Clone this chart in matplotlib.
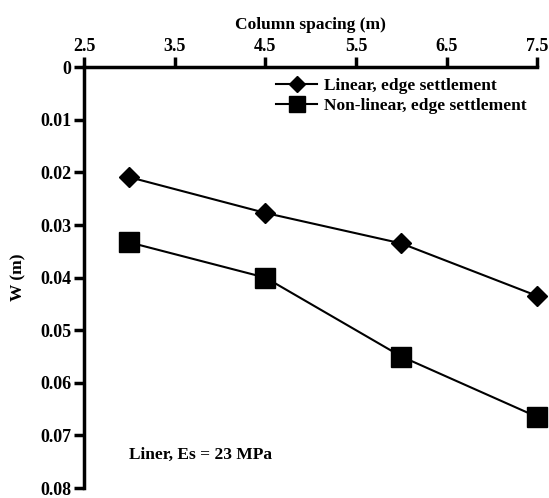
import numpy as np
import matplotlib.pyplot as plt

spacing = [3.0, 4.5, 6.0, 7.5]
w_linear = [0.0209, 0.0277, 0.0335, 0.0435]
w_nonlinear = [0.0333, 0.0400, 0.0550, 0.0665]
xticks = [2.5, 3.5, 4.5, 5.5, 6.5, 7.5]
yticks = [0, 0.01, 0.02, 0.03, 0.04, 0.05, 0.06, 0.07, 0.08]

plt.rcParams['font.family'] = ['Liberation Serif', 'DejaVu Serif']
plt.rcParams['font.weight'] = 'bold'

fig = plt.figure(figsize=(5.49, 4.98), dpi=100)
ax = fig.add_axes([0.153, 0.02, 0.826, 0.845])

ax.plot(spacing, w_linear, color='black', lw=1.5, marker='D', ms=10,
        label='Linear, edge settlement')
ax.plot(spacing, w_nonlinear, color='black', lw=1.5, marker='s', ms=14,
        label='Non-linear, edge settlement')

ax.set_xlim(2.5, 7.5)
ax.set_ylim(0.08, 0)
ax.set_xticks(xticks)
ax.set_yticks(yticks)
ax.set_yticklabels(['0'] + ['%.2f' % v for v in yticks[1:]])
ax.xaxis.tick_top()
ax.xaxis.set_label_position('top')
ax.set_xlabel('Column spacing (m)', fontsize=12.5, fontweight='bold', labelpad=6)
ax.set_ylabel('W (m)', fontsize=12.5, fontweight='bold', labelpad=10)

for s in ['right', 'bottom']:
    ax.spines[s].set_visible(False)
for s in ['top', 'left']:
    ax.spines[s].set_linewidth(2.5)
ax.tick_params(direction='out', width=2.5, length=7, labelsize=13, pad=2)
for lab in ax.get_xticklabels() + ax.get_yticklabels():
    lab.set_fontweight('bold')

leg = ax.legend(loc='upper right', frameon=False, handlelength=2.4,
                handletextpad=0.4, borderaxespad=0.2, labelspacing=0.25,
                prop={'weight': 'bold', 'size': 12.5}, markerscale=0.85,
                bbox_to_anchor=(1.0, 1.0))
ax.text(3.0, 0.0745, 'Liner, Es = 23 MPa', fontsize=12.5, fontweight='bold')
for l in ax.lines:
    l.set_clip_on(False)

fig.savefig('out.png', dpi=100)
